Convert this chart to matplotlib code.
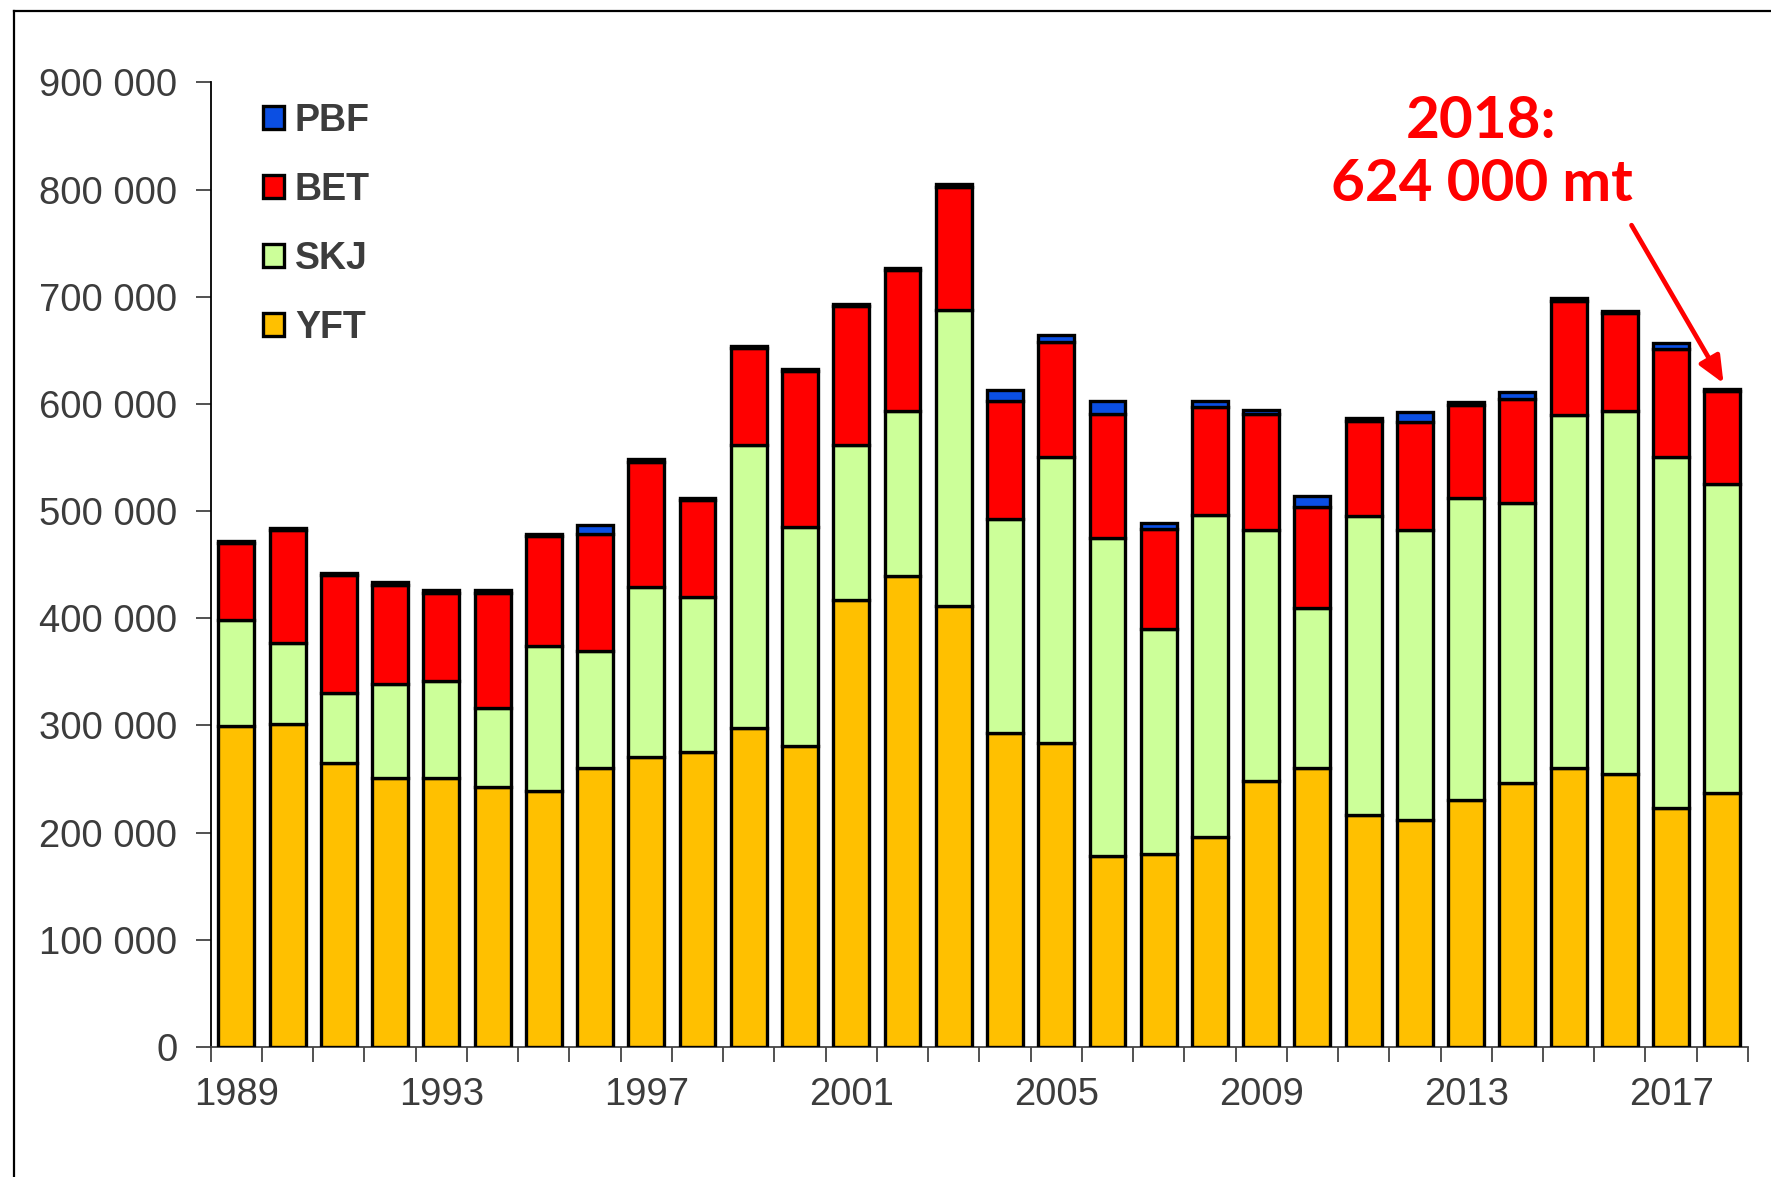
import numpy as np
import matplotlib.pyplot as plt
from matplotlib.patches import Patch
from matplotlib.lines import Line2D
from matplotlib.ticker import FuncFormatter

# Dane (tony)
years = list(range(1989, 2019))
yft = [299, 301, 265, 251, 251, 243, 239, 260, 271, 275, 298, 281, 417, 439, 411,
       293, 284, 178, 180, 196, 248, 260, 216, 212, 230, 246, 260, 255, 223, 237]
skj = [99, 76, 65, 88, 90, 73, 135, 109, 158, 145, 264, 204, 145, 154, 277,
       200, 266, 297, 210, 300, 234, 150, 279, 270, 282, 262, 330, 338, 327, 288]
bet = [72, 105, 110, 92, 83, 108, 103, 110, 117, 90, 90, 146, 129, 132, 114,
       110, 108, 116, 93, 101, 109, 94, 89, 101, 87, 97, 106, 92, 101, 87]
pbf = [2, 2, 2, 3, 2, 2, 2, 8, 3, 2, 2, 2, 2, 2, 3,
       10, 6, 12, 6, 6, 3, 10, 3, 9, 3, 6, 3, 2, 6, 2]
species = ['YFT', 'SKJ', 'BET', 'PBF']
colors = ['#FFC000', '#CCFF99', '#FF0000', '#0B4FE3']
label_years = [1989, 1993, 1997, 2001, 2005, 2009, 2013, 2017]
note = '2018:\n624 000 mt'

series = [np.array(s) * 1000 for s in (yft, skj, bet, pbf)]
x = np.arange(len(years))

fig = plt.figure(figsize=(17.71, 11.77), dpi=100)
ax = fig.add_axes([0.119, 0.1105, 0.868, 0.8195])

bottom = np.zeros(len(years))
for vals, col in zip(series, colors):
    ax.bar(x, vals, bottom=bottom, width=0.7, color=col, edgecolor='black', linewidth=2.4, zorder=3)
    bottom += vals

ax.set_ylim(0, 900000)
ax.set_xlim(-0.5, len(years) - 0.5)
ax.set_yticks(np.arange(0, 900001, 100000))
ax.yaxis.set_major_formatter(FuncFormatter(lambda v, p: f'{int(v):,}'.replace(',', ' ')))

# podziałki między słupkami, etykiety co 4 lata
ax.set_xticks(np.arange(-0.5, len(years), 1.0))
ax.set_xticklabels([])
ax.set_xticks([years.index(y) for y in label_years], minor=True)
ax.set_xticklabels([str(y) for y in label_years], minor=True)
ax.tick_params(axis='x', which='major', length=11, width=1.2, color='#333333')
ax.tick_params(axis='x', which='minor', length=0, pad=22)
ax.tick_params(axis='y', length=11, width=1.2, color='#333333', pad=13)
for lab in ax.get_xticklabels(minor=True) + ax.get_yticklabels():
    lab.set_fontfamily('Liberation Sans')
    lab.set_fontsize(27.5)
    lab.set_color('#3c3c3c')

ax.spines['top'].set_visible(False)
ax.spines['right'].set_visible(False)
ax.spines['left'].set_linewidth(1.3)
ax.spines['bottom'].set_linewidth(1.3)
ax.spines['bottom'].set_color('#444444')

# legenda
handles = [Patch(facecolor=c, edgecolor='black', linewidth=2.4, label=s)
           for s, c in zip(species, colors)][::-1]
leg = ax.legend(handles=handles, loc='upper left', bbox_to_anchor=(0.012, 1.014),
                frameon=False, handlelength=0.55, handleheight=0.55,
                handletextpad=0.3, labelspacing=0.88,
                prop={'family': 'Liberation Sans', 'weight': 'bold', 'size': 27})
for t in leg.get_texts():
    t.set_color('#3c3c3c')

# adnotacja dla 2018
last = len(years) - 1
ax.text(24.3, 834000, note, ha='center', va='center', color='#FF0000',
        fontsize=42, fontweight='bold', family='Lato', linespacing=1.22)
ax.annotate('', xy=(last + 0.05, bottom[last] + 3000), xytext=(27.2, 769000),
            arrowprops=dict(arrowstyle='-|>,head_length=1.6,head_width=0.7',
                            color='#FF0000', lw=3.4))

# ramka wokół obrazka
fig.add_artist(Line2D([0.0077, 0.0077], [0.0, 0.9904], color='black', lw=1.6))
fig.add_artist(Line2D([0.0077, 1.0], [0.9904, 0.9904], color='black', lw=1.6))

plt.savefig('out.png', dpi=100)
